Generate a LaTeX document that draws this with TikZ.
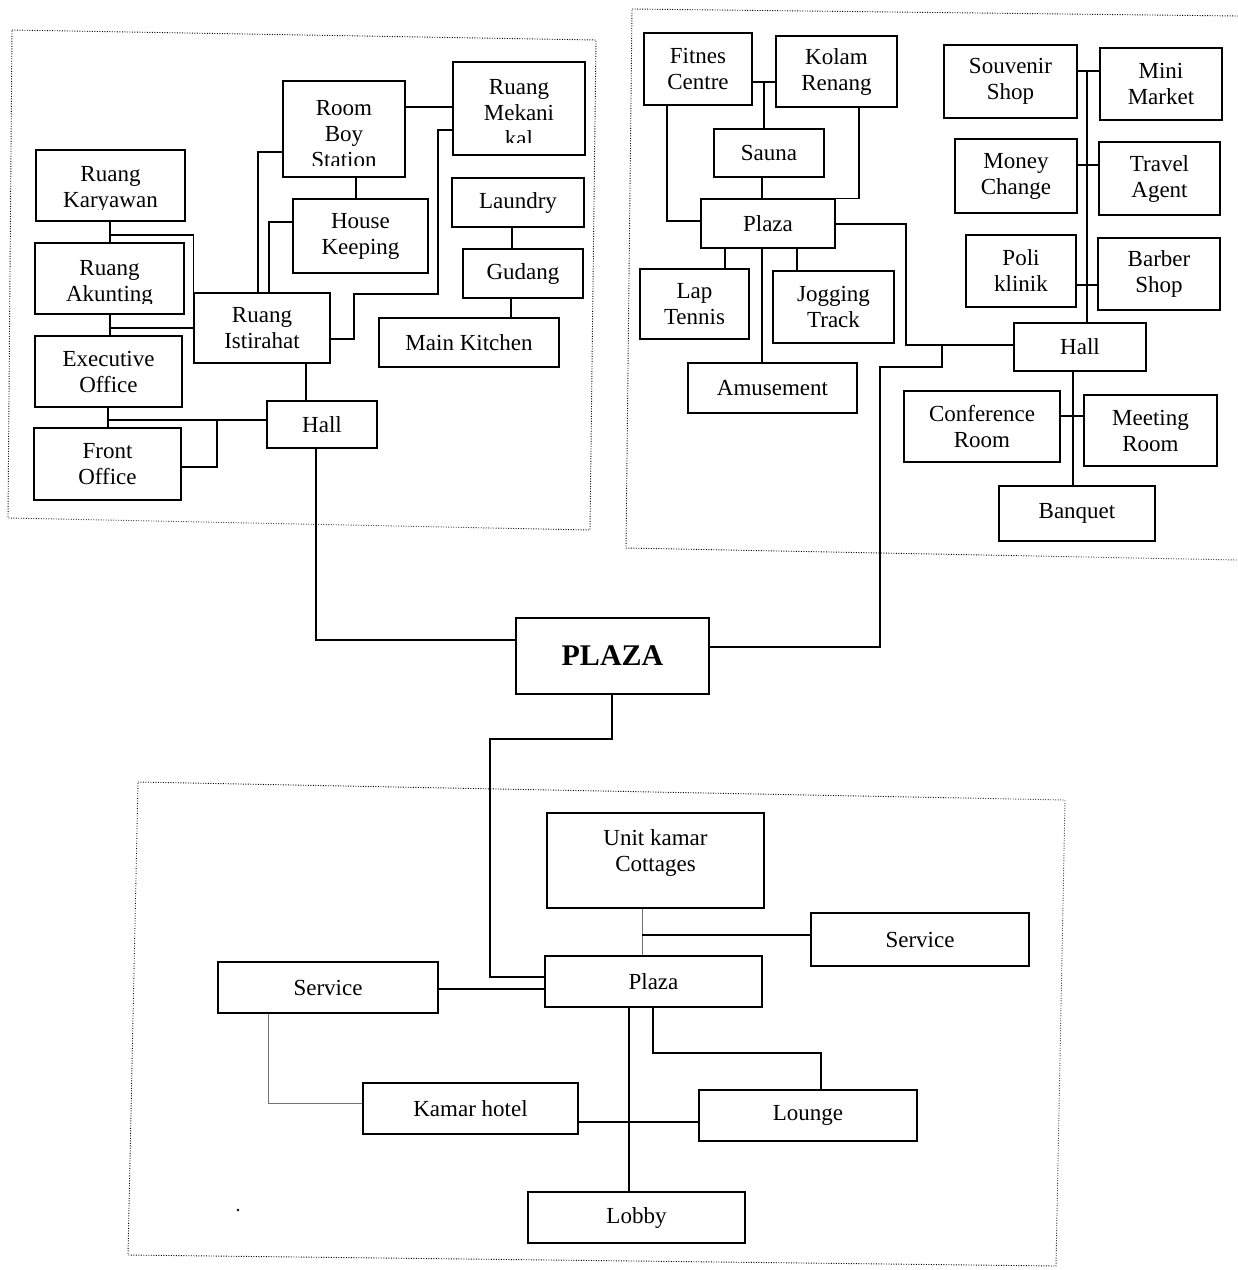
\documentclass[tikz,border=0pt]{standalone}
\usepackage{fontspec}
\setmainfont{Liberation Serif}
\newcommand\roomfont{\fontsize{23}{26}\selectfont}
% plain box: name, x1, y1, x2, y2, text
\newcommand\bx[6]{%
  \node[box,minimum width={(#4)-(#2)},minimum height={(#5)-(#3)}]
    (#1) at ({((#2)+(#4))/2},{((#3)+(#5))/2}) {#6};}
% box whose text is shifted and cut off above the lower edge:
% name, x1, y1, x2, y2, cut, shift, text
\newcommand\cbx[8]{%
  \node[box,minimum width={(#4)-(#2)},minimum height={(#5)-(#3)},
    path picture={%
      \clip ([yshift=#6pt]path picture bounding box.south west)
        rectangle (path picture bounding box.north east);
      \node[txt] at ([yshift=#7pt]path picture bounding box.center) {#8};}]
    (#1) at ({((#2)+(#4))/2},{((#3)+(#5))/2}) {};}
\begin{document}
\begin{tikzpicture}[x=1pt,y=-1pt,
  box/.style={draw,line width=1.5pt,inner sep=0pt,align=center,font=\roomfont},
  txt/.style={draw=none,inner sep=0pt,align=center,font=\roomfont},
  link/.style={line width=1.2pt},
  faint/.style={line width=0.5pt,black!55},
  zone/.style={line width=0.9pt,dash pattern=on 0.9pt off 1.6pt}]
\useasboundingbox (0,0) rectangle (1238,1270);

% ---------- zones ----------
\draw[zone] (12,30) -- (596,40) -- (590,530) -- (8,518) -- cycle;
\draw[zone] (1238,16) -- (632,9) -- (626,548) -- (1238,560);
\draw[zone] (138,782) -- (1065,800) -- (1056,1266) -- (128,1255) -- cycle;

% ---------- service block ----------
\cbx{kary}{36}{150}{185}{221}{12}{-4}{Ruang\\Karyawan}
\cbx{akun}{35}{243}{184}{314}{11}{-5}{Ruang\\Akunting}
\bx{exec}{35}{336}{182}{407}{Executive\\Office}
\bx{front}{34}{428}{181}{500}{Front\\Office}
\cbx{rbs}{283}{81}{405}{177}{12}{-5}{Room\\Boy\\Station}
\cbx{mek}{453}{62}{585}{155}{13}{-5}{Ruang\\Mekani\\kal}
\bx{hk}{293}{199}{428}{273}{House\\Keeping}
\bx{laundry}{452}{178}{584}{227}{Laundry}
\bx{gudang}{463}{249}{583}{298}{Gudang}
\bx{kitchen}{379}{318}{559}{367}{Main Kitchen}
\bx{ist}{194}{293}{330}{363}{Ruang\\Istirahat}
\bx{hallA}{267}{401}{377}{448}{Hall}

% ---------- recreation / commercial block ----------
\bx{fit}{644}{33}{752}{105}{Fitnes\\Centre}
\bx{kol}{776}{36}{897}{107}{Kolam\\Renang}
\bx{sauna}{714}{129}{824}{177}{Sauna}
\bx{plzB}{701}{199}{835}{248}{Plaza}
\bx{lap}{640}{269}{749}{339}{Lap\\Tennis}
\bx{jog}{773}{271}{894}{343}{Jogging\\Track}
\bx{amu}{688}{363}{857}{413}{Amusement}
\bx{souv}{944}{45}{1077}{118}{Souvenir\\Shop}
\bx{mini}{1100}{48}{1222}{120}{Mini\\Market}
\bx{money}{955}{139}{1077}{213}{Money\\Change}
\bx{travel}{1099}{142}{1220}{215}{Travel\\Agent}
\bx{poli}{966}{235}{1076}{307}{Poli\\klinik}
\bx{barber}{1098}{238}{1220}{310}{Barber\\Shop}
\bx{hallB}{1014}{323}{1146}{371}{Hall}
\bx{conf}{904}{391}{1060}{462}{Conference\\Room}
\bx{meet}{1084}{395}{1217}{466}{Meeting\\Room}
\bx{banq}{999}{486}{1155}{541}{Banquet}

% ---------- central plaza ----------
\node[box,font=\fontsize{30}{34}\selectfont\bfseries,
  minimum width=193,minimum height=76] (plaza) at (612.5,656) {PLAZA};

% ---------- lodging block ----------
\cbx{unit}{547}{813}{764}{908}{0}{8}{Unit kamar\\Cottages}
\bx{svcR}{811}{913}{1029}{966}{Service}
\bx{plzC}{545}{956}{762}{1007}{Plaza}
\bx{svcL}{218}{962}{438}{1013}{Service}
\bx{kh}{363}{1083}{578}{1134}{Kamar hotel}
\bx{lounge}{699}{1090}{917}{1141}{Lounge}
\bx{lobby}{528}{1192}{745}{1243}{Lobby}

% junction points on existing lines
\coordinate (jA) at (217,420);
\coordinate (jS) at (764,82);
\coordinate (jH) at (942,345);
\coordinate (jT) at (1087,71);
\coordinate (jU) at (642,935);

% ---------- connectors: service block ----------
\draw[link] (kary.south -| 110,0) -- (akun.north -| 110,0);
\draw[link] (110,235) -| (ist.north west);
\draw[link] (akun.south -| 110,0) -- (exec.north -| 110,0);
\draw[link] (110,328) -- (ist.west |- 0,328);
\draw[link] (exec.south -| 108,0) -- (front.north -| 108,0);
\draw[link] (108,420) -- (hallA.west |- 0,420);
\draw[link] (front.east |- 0,467) -| (jA);
\draw[link] (ist.south -| 306,0) -- (hallA.north -| 306,0);
\draw[link] (ist.east |- 0,339) -| (354,294) -| (438,130) -- (mek.west |- 0,130);
\draw[link] (rbs.east |- 0,107) -- (mek.west |- 0,107);
\draw[link] (rbs.south -| 356,0) -- (hk.north -| 356,0);
\draw[link] (laundry.south -| 512,0) -- (gudang.north -| 512,0);
\draw[link] (gudang.south -| 511,0) -- (kitchen.north -| 511,0);
\draw[link] (ist.north -| 258,0) |- (rbs.west |- 0,152);
\draw[link] (ist.north -| 269,0) |- (hk.west |- 0,222);
\draw[link] (hallA.south -| 316,0) |- (plaza.west |- 0,640);

% ---------- connectors: recreation / commercial block ----------
\draw[link] (fit.east |- 0,82) -- (kol.west |- 0,82);
\draw[link] (jS) -- (sauna.north -| jS);
\draw[link] (fit.south -| 667,0) |- (plzB.west |- 0,221);
\draw[link] (kol.south -| 859,0) |- (plzB.north east);
\draw[link] (sauna.south -| 762,0) -- (plzB.north -| 762,0);
\draw[link] (plzB.south -| 725,0) -- (lap.north -| 725,0);
\draw[link] (plzB.south -| 762,0) -- (amu.north -| 762,0);
\draw[link] (plzB.south -| 797,0) -- (jog.north -| 797,0);
\draw[link] (plzB.east |- 0,224) -| (906,345) -- (hallB.west |- 0,345);
\draw[link] (jH) |- (880,367) |- (plaza.east |- 0,647);
\draw[link] (hallB.north -| jT) -- (jT);
\draw[link] (souv.east |- jT) -- (mini.west |- jT);
\draw[link] (money.east |- 0,165) -- (travel.west |- 0,165);
\draw[link] (poli.east |- 0,285) -- (barber.west |- 0,285);
\draw[link] (hallB.south -| 1073,0) -- (banq.north -| 1073,0);
\draw[link] (conf.east |- 0,416) -- (meet.west |- 0,416);

% ---------- connectors: lodging block ----------
\draw[link] (plaza.south -| 612,0) |- (490,739) |- (plzC.west |- 0,977);
\draw[faint] (unit.south -| jU) -- (plzC.north -| jU);
\draw[link] (jU) -- (svcR.west |- jU);
\draw[link] (svcL.east |- 0,989) -- (plzC.west |- 0,989);
\draw[faint] (svcL.south -| 268,0) |- (kh.west |- 0,1103);
\draw[link] (plzC.south -| 629,0) -- (lobby.north -| 629,0);
\draw[link] (plzC.south -| 653,0) |- (821,1053) -- (lounge.north -| 821,0);
\draw[link] (kh.east |- 0,1122) -- (lounge.west |- 0,1122);

\fill (238,1210) circle (1.3pt);
\end{tikzpicture}
\end{document}
